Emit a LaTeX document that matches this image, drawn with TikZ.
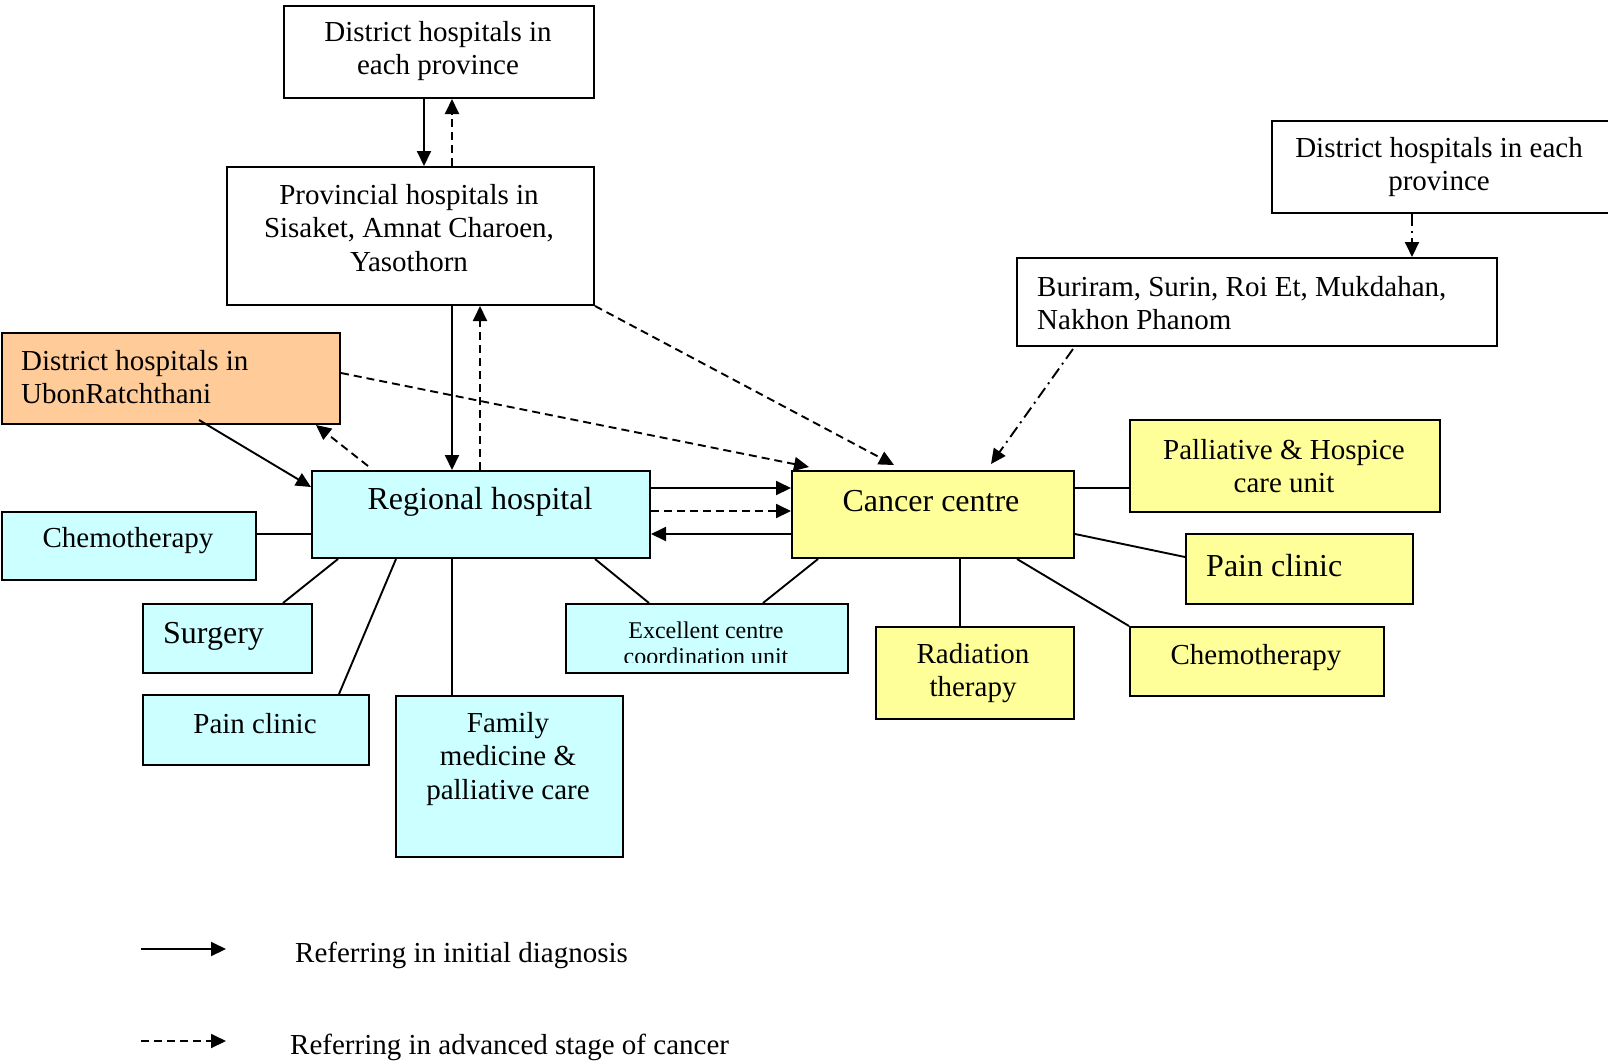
\documentclass[tikz,border=0pt]{standalone}
\usepackage{fontspec}
\setmainfont{Liberation Serif}
\usetikzlibrary{arrows.meta,calc}

\definecolor{regcyan}{HTML}{CCFFFF}
\definecolor{canyellow}{HTML}{FFFF99}
\definecolor{ubonorange}{HTML}{FFCC99}

\tikzset{
  cbox/.style={draw=black, line width=2pt, rectangle, inner sep=0pt, anchor=north west},
  tA/.style={font=\fontsize{29}{33.5}\selectfont, inner sep=0pt, align=center},
  tB/.style={font=\fontsize{32}{36}\selectfont, inner sep=0pt, align=center},
  tC/.style={font=\fontsize{24}{26}\selectfont, inner sep=0pt, align=center},
  conn/.style={line width=1.9pt},
  tip/.style={-{Triangle[length=15pt,width=14pt]}},
  solidarrow/.style={conn, tip},
  dasharrow/.style={conn, tip, dash pattern=on 8pt off 5pt},
  dotdasharrow/.style={conn, tip, dash pattern=on 12pt off 5pt on 2pt off 5pt},
}

\begin{document}
\begin{tikzpicture}[x=1pt, y=-1pt]
\useasboundingbox (0,0) rectangle (1608,1061);

% ---------- boxes ----------
\node (dh1)    [cbox, minimum width=310, minimum height=92]  at (283,5) {};
\node (prov)   [cbox, minimum width=367, minimum height=138] at (226,166) {};
\node (ubon)   [cbox, fill=ubonorange, minimum width=338, minimum height=91] at (1,332) {};
\node (reg)    [cbox, fill=regcyan, minimum width=338, minimum height=87] at (311,470) {};
\node (chemoL) [cbox, fill=regcyan, minimum width=254, minimum height=68] at (1,511) {};
\node (surg)   [cbox, fill=regcyan, minimum width=169, minimum height=69] at (142,603) {};
\node (painL)  [cbox, fill=regcyan, minimum width=226, minimum height=70] at (142,694) {};
\node (fam)    [cbox, fill=regcyan, minimum width=227, minimum height=161] at (395,695) {};
\node (exc)    [cbox, fill=regcyan, minimum width=282, minimum height=69] at (565,603) {};
\node (cancer) [cbox, fill=canyellow, minimum width=282, minimum height=87] at (791,470) {};
\node (pall)   [cbox, fill=canyellow, minimum width=310, minimum height=92] at (1129,419) {};
\node (painR)  [cbox, fill=canyellow, minimum width=227, minimum height=70] at (1185,533) {};
\node (rad)    [cbox, fill=canyellow, minimum width=198, minimum height=92] at (875,626) {};
\node (chemoR) [cbox, fill=canyellow, minimum width=254, minimum height=69] at (1129,626) {};
\node (bur)    [cbox, minimum width=480, minimum height=88]  at (1016,257) {};
\node (dh2)    [cbox, minimum width=340, minimum height=92]  at (1271,120) {};

% ---------- box texts ----------
\node (dh1-t)    [tA] at (438,51)  {District hospitals in\\each province};
\node (prov-t)   [tA] at (409,228) {Provincial hospitals in\\Sisaket, Amnat Charoen,\\Yasothorn};
\node (ubon-t)   [tA, align=left, anchor=west] at (21,377) {District hospitals in\\UbonRatchthani};
\node (reg-t)    [tB] at (480,502) {Regional hospital};
\node (chemoL-t) [tA] at (128,541) {Chemotherapy};
\node (surg-t)   [tB, anchor=west] at (163,636) {Surgery};
\node (painL-t)  [tA] at (255,724) {Pain clinic};
\node (fam-t)    [tA] at (508,759) {Family\\medicine \&\\palliative care};
\begin{scope}
  \clip (exc.north west) rectangle ($(exc.south east)+(0,-12)$);
  \node (exc-t)  [tC] at (706,643) {Excellent centre\\coordination unit};
\end{scope}
\node (cancer-t) [tB] at (931,501) {Cancer centre};
\node (pall-t)   [tA] at (1284,466) {Palliative \& Hospice\\care unit};
\node (painR-t)  [tB, anchor=west] at (1206,566) {Pain clinic};
\node (rad-t)    [tA] at (973,673) {Radiation\\therapy};
\node (chemoR-t) [tA] at (1256,658) {Chemotherapy};
\node (bur-t)    [tA, align=left, anchor=west] at (1037,303) {Buriram, Surin, Roi Et, Mukdahan,\\Nakhon Phanom};
\node (dh2-t)    [tA] at (1439,167) {District hospitals in each\\province};

% ---------- referrals ----------
\draw[solidarrow] ($(dh1.south west)+(141,0)$) coordinate (p1) -- (p1 |- prov.north);
\draw[dasharrow]  ($(prov.north west)+(226,0)$) coordinate (p2) -- (p2 |- dh1.south);
\draw[solidarrow] ($(prov.south west)+(226,0)$) coordinate (p3) -- (p3 |- reg.north);
\draw[dasharrow]  ($(reg.north west)+(169,0)$) coordinate (p4) -- (p4 |- prov.south);
\draw[dasharrow]  (prov.south east) -- ($(cancer.north west)+(103,-5)$);
\draw[dasharrow]  ($(ubon.north east)+(0,41)$) -- ($(cancer.north west)+(18,-3)$);
\draw[solidarrow] ($(ubon.south west)+(198,-5)$) -- ($(reg.north west)+(0,17)$);
\draw[dasharrow]  ($(reg.north west)+(57,-4)$) -- ($(ubon.south west)+(315,0)$);
\draw[solidarrow] ($(reg.north east)+(0,18)$) coordinate (p5) -- (p5 -| cancer.west);
\draw[dasharrow]  ($(reg.north east)+(0,41)$) coordinate (p6) -- (p6 -| cancer.west);
\draw[solidarrow] ($(cancer.north west)+(0,64)$) coordinate (p7) -- (p7 -| reg.east);
\draw[dotdasharrow] ($(dh2.south west)+(141,0)$) coordinate (p8) -- (p8 |- bur.north);
\draw[dotdasharrow] ($(bur.south west)+(57,2)$) -- ($(cancer.north west)+(200,-6)$);

% ---------- service links ----------
\draw[conn] ($(chemoL.north east)+(0,23)$) coordinate (q1) -- (q1 -| reg.west);
\draw[conn] ($(surg.north west)+(141,0)$) -- ($(reg.south west)+(27,0)$);
\draw[conn] ($(painL.north west)+(197,0)$) -- ($(reg.south west)+(85,0)$);
\draw[conn] ($(fam.north west)+(57,0)$) coordinate (q2) -- (q2 |- reg.south);
\draw[conn] ($(exc.north west)+(84,0)$) -- ($(reg.south east)+(-56,0)$);
\draw[conn] ($(exc.north west)+(198,0)$) -- ($(cancer.south west)+(27,0)$);
\draw[conn] ($(cancer.north east)+(0,18)$) coordinate (q3) -- (q3 -| pall.west);
\draw[conn] ($(cancer.north east)+(0,64)$) -- ($(painR.north west)+(0,24)$);
\draw[conn] ($(rad.north west)+(85,0)$) coordinate (q4) -- (q4 |- cancer.south);
\draw[conn] ($(cancer.south west)+(226,0)$) -- (chemoR.north west);

% ---------- legend ----------
\coordinate (l1a) at (141,949);
\coordinate (l1b) at (226,949);
\coordinate (l2a) at (141,1041);
\coordinate (l2b) at (226,1041);
\draw[solidarrow] (l1a) -- (l1b);
\draw[dasharrow]  (l2a) -- (l2b);
\node (leg1) [tA, anchor=west] at (295,955)  {Referring in initial diagnosis};
\node (leg2) [tA, anchor=west] at (290,1047) {Referring in advanced stage of cancer};
\end{tikzpicture}
\end{document}
